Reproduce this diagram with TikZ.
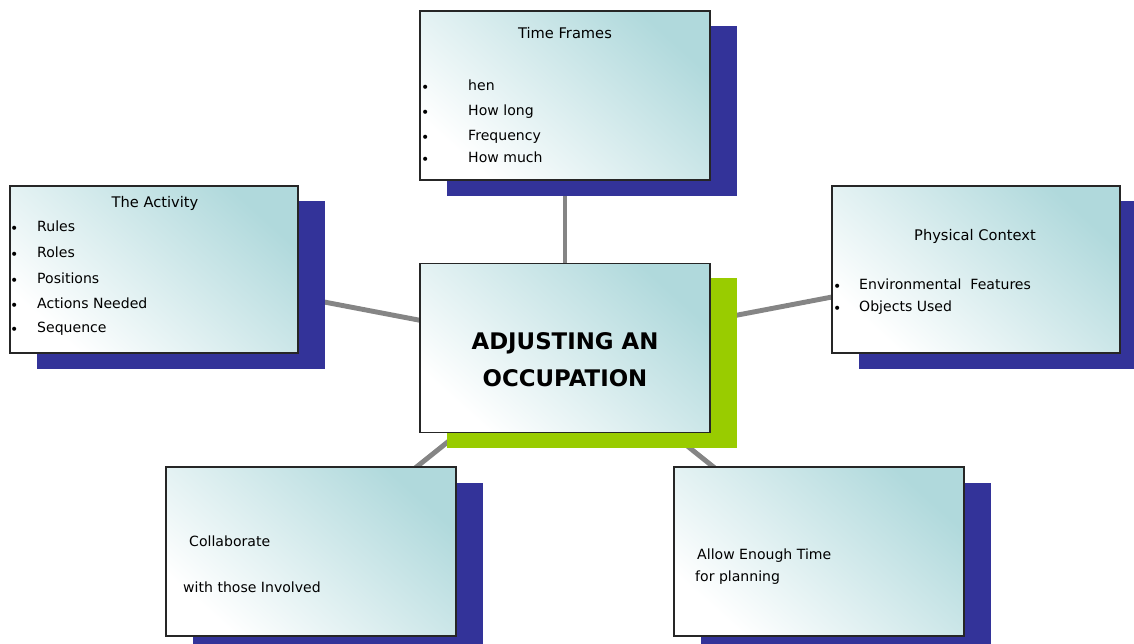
\documentclass[tikz,border=0pt]{standalone}
\usepackage{fontspec}
\setmainfont{DejaVu Sans}
\usetikzlibrary{backgrounds}
\definecolor{shblue}{HTML}{333399}
\definecolor{shgreen}{HTML}{99CC00}
\definecolor{tealc}{HTML}{B0D9DC}
\definecolor{linkgray}{HTML}{858585}
\tikzset{
  box/.style={draw=black!85, line width=1.6pt, inner sep=0pt,
    top color=tealc, bottom color=white, shading angle=-42},
  shadowbox/.style={inner sep=0pt, draw=none},
  wide/.style={minimum width=8.7cm, minimum height=5.07cm},
  narrow/.style={minimum width=8.64cm, minimum height=5.01cm},
  link/.style={draw=linkgray, line width=4.2pt},
  txt/.style={anchor=west, inner sep=0pt, text height=1.5ex, text depth=0.5ex, font=\fontsize{12}{14}\selectfont},
  ttl/.style={anchor=center, inner sep=0pt, text height=1.5ex, text depth=0.5ex, font=\fontsize{12.5}{14}\selectfont},
  bul/.style={anchor=west, inner sep=0pt, yshift=-2pt, font=\fontsize{12}{14}\selectfont},
  big/.style={anchor=center, inner sep=0pt, font=\fontsize{19.5}{23}\bfseries\selectfont}
}
\begin{document}
\begin{tikzpicture}[x=0.03cm, y=-0.03cm]
\useasboundingbox (0,0) rectangle (1134,644);
% shadows
\node[shadowbox, wide, fill=shblue] (tfs) at (592,111) {};
\node[shadowbox, narrow, fill=shblue] (acts) at (181,285) {};
\node[shadowbox, narrow, fill=shblue] (phys) at (1003,285) {};
\node[shadowbox, wide, fill=shgreen] (ctrs) at (592,363) {};
\node[shadowbox, wide, fill=shblue] (cols) at (338,567) {};
\node[shadowbox, wide, fill=shblue] (alws) at (846,567) {};
% boxes
\node[box, wide] (tf) at (565,95.5) {};
\node[box, narrow] (act) at (154,269.5) {};
\node[box, narrow] (phy) at (976,269.5) {};
\node[box, wide] (ctr) at (565,348) {};
\node[box, wide] (col) at (311,551.5) {};
\node[box, wide] (alw) at (819,551.5) {};
% connectors
\begin{scope}[on background layer]
\draw[link] (ctr.center) -- (tf.center);
\draw[link] (ctr.center) -- (act.center);
\draw[link] (ctr.center) -- (phy.center);
\draw[link] (ctr.center) -- (col.center);
\draw[link] (ctr.center) -- (alw.center);
\end{scope}
% Time Frames
\node[ttl] (tft) at (565,35) {Time Frames};
\node[bul] (tfb1) at (421,87) {\textbullet};
\node[bul] (tfb2) at (421,112) {\textbullet};
\node[bul] (tfb3) at (421,137) {\textbullet};
\node[bul] (tfb4) at (421,159) {\textbullet};
\node[txt] (tf1) at (468,87) {hen};
\node[txt] (tf2) at (468,112) {How long};
\node[txt] (tf3) at (468,137) {Frequency};
\node[txt] (tf4) at (468,159) {How much};
% The Activity
\node[ttl] (actt) at (155,204) {The Activity};
\node[bul] (actb1) at (10,228) {\textbullet};
\node[bul] (actb2) at (10,254) {\textbullet};
\node[bul] (actb3) at (10,280) {\textbullet};
\node[bul] (actb4) at (10,305) {\textbullet};
\node[bul] (actb5) at (10,329) {\textbullet};
\node[txt] (act1) at (37,228) {Rules};
\node[txt] (act2) at (37,254) {Roles};
\node[txt] (act3) at (37,280) {Positions};
\node[txt] (act4) at (37,305) {Actions Needed};
\node[txt] (act5) at (37,329) {Sequence};
% Physical Context
\node[ttl] (phyt) at (975,237) {Physical Context};
\node[bul] (phyb1) at (833,286) {\textbullet};
\node[bul] (phyb2) at (833,308) {\textbullet};
\node[txt] (phy1) at (859,286) {Environmental\ \ Features};
\node[txt] (phy2) at (859,308) {Objects Used};
% center
\node[big] (ctr1) at (565,343) {ADJUSTING AN};
\node[big] (ctr2) at (565,378) {OCCUPATION};
% Collaborate
\node[txt] (col1) at (189,543) {Collaborate};
\node[txt] (col2) at (183,589) {with those Involved};
% Allow
\node[txt] (alw1) at (697,556) {Allow Enough Time};
\node[txt] (alw2) at (695,578) {for planning};
\end{tikzpicture}
\end{document}
